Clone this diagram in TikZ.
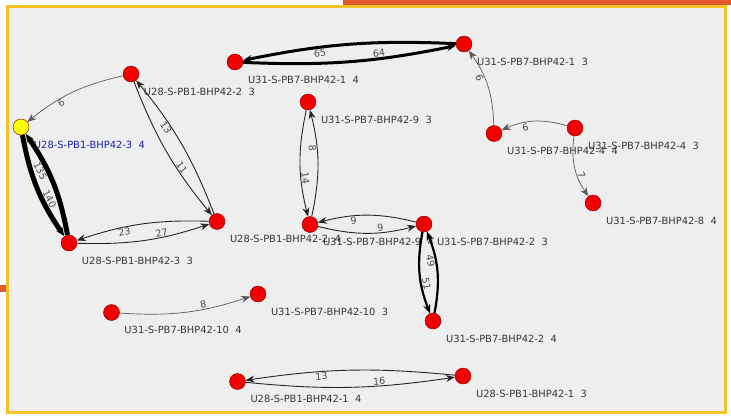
\documentclass[tikz,border=0pt]{standalone}
\usepackage{fontspec}
\setmainfont{DejaVu Sans}
\usetikzlibrary{arrows.meta}

\definecolor{panel}{RGB}{238,238,238}
\definecolor{frame}{RGB}{246,194,40}
\definecolor{strip}{RGB}{226,88,42}
\definecolor{vfill}{RGB}{240,0,0}
\definecolor{vline}{RGB}{130,0,0}
\definecolor{hubfill}{RGB}{255,255,0}
\definecolor{ltext}{RGB}{55,55,55}
\definecolor{btext}{RGB}{30,30,170}

\begin{document}
\begin{tikzpicture}[x=1pt, y=1pt,
  vtx/.style = {shape=circle, draw=vline, fill=vfill,
    minimum size=16pt, inner sep=0pt},
  hub/.style = {vtx, fill=hubfill},
  nlabel/.style = {font=\fontsize{9.9}{11}\selectfont, text=ltext,
    inner sep=0pt, xshift=7pt, yshift=-8pt},
  elabel/.style = {font=\fontsize{9.6}{11}\selectfont, text=black!70,
    pos=.65, sloped, auto, inner sep=0.5pt},
  tip/.style = {-{Stealth[length=9pt, width=7pt, inset=3pt]}},
  faint/.style = {tip, draw=black!65, line width=0.7pt},
  plain/.style = {tip, draw=black!85, line width=0.9pt},
  heavy/.style = {tip, draw=black, line width=2.2pt},
  heavier/.style = {tip, draw=black, line width=3pt},
  heaviest/.style = {tip, draw=black, line width=5pt}]
  \useasboundingbox (0,0) rectangle (731,-418);
  \fill[white] (0,0) rectangle (731,-418);
  \fill[strip] (343,0) rectangle (731,-4.5);
  \fill[strip] (0,-285) rectangle (6,-292);
  \draw[frame, fill=panel, line width=3pt] (7.5,-6) rectangle (725.5,-412);

  % U28 group
  \node[vtx, label={[nlabel]below right:U28-S-PB1-BHP42-2\ \ 3}] (a23) at (131,-74) {};
  \node[hub, label={[nlabel, text=btext]below right:U28-S-PB1-BHP42-3\ \ 4}] (a34) at (21,-127) {};
  \node[vtx, label={[nlabel]below right:U28-S-PB1-BHP42-3\ \ 3}] (a33) at (69,-243) {};
  \node[vtx, label={[nlabel]below right:U28-S-PB1-BHP42-2\ \ 4}] (a24) at (217,-221.5) {};
  \node[vtx, label={[nlabel]below right:U28-S-PB1-BHP42-1\ \ 4}] (a14) at (237.5,-381.5) {};
  \node[vtx, label={[nlabel]below right:U28-S-PB1-BHP42-1\ \ 3}] (a13) at (463,-376) {};

  % U31 group
  \node[vtx, label={[nlabel]below right:U31-S-PB7-BHP42-1\ \ 4}] (b14) at (235,-62) {};
  \node[vtx, label={[nlabel]below right:U31-S-PB7-BHP42-1\ \ 3}] (b13) at (464,-44) {};
  \node[vtx, label={[nlabel]below right:U31-S-PB7-BHP42-9\ \ 3}] (b93) at (308,-102) {};
  \node[vtx, label={[nlabel]below right:U31-S-PB7-BHP42-4\ \ 4}] (b44) at (494,-133.5) {};
  \node[vtx, label={[nlabel]below right:U31-S-PB7-BHP42-4\ \ 3}] (b43) at (575,-128) {};
  \node[vtx, label={[nlabel]below right:U31-S-PB7-BHP42-8\ \ 4}] (b84) at (593,-203) {};
  \node[vtx, label={[nlabel]below right:U31-S-PB7-BHP42-9\ \ 4}] (b94) at (310,-224.5) {};
  \node[vtx, label={[nlabel]below right:U31-S-PB7-BHP42-2\ \ 3}] (b23) at (424,-224) {};
  \node[vtx, label={[nlabel]below right:U31-S-PB7-BHP42-2\ \ 4}] (b24) at (433,-321) {};
  \node[vtx, label={[nlabel]below right:U31-S-PB7-BHP42-10\ \ 4}] (b104) at (111.5,-312.5) {};
  \node[vtx, label={[nlabel]below right:U31-S-PB7-BHP42-10\ \ 3}] (b103) at (258,-294) {};

  % edges
  \draw[faint] (a23) to[bend right=13] node[elabel, swap] {6} (a34);
  \draw[heaviest] (a34) to[bend right=12] node[elabel] {140} (a33);
  \draw[heaviest] (a33) to[bend right=12] node[elabel, swap] {135} (a34);
  \draw[plain] (a23) to[bend right=9] node[elabel] {11} (a24);
  \draw[plain] (a24) to[bend right=9] node[elabel, swap] {13} (a23);
  \draw[plain] (a33) to[bend right=10] node[elabel] {27} (a24);
  \draw[plain] (a24) to[bend right=10] node[elabel, swap] {23} (a33);
  \draw[heavier] (b14) to[bend right=7] node[elabel] {64} (b13);
  \draw[heavier] (b13) to[bend right=7] node[elabel, swap] {65} (b14);
  \draw[faint] (b44) to[bend right=17] node[elabel, swap] {6} (b13);
  \draw[faint] (b43) to[bend right=20] node[elabel, swap] {6} (b44);
  \draw[faint] (b43) to[bend right=21] node[elabel] {7} (b84);
  \draw[plain] (b94) to[bend right=13] node[elabel, swap] {8} (b93);
  \draw[plain] (b93) to[bend right=13] node[elabel] {14} (b94);
  \draw[plain] (b94) to[bend right=14] node[elabel] {9} (b23);
  \draw[plain] (b23) to[bend right=14] node[elabel, swap] {9} (b94);
  \draw[heavy] (b23) to[bend right=16] node[elabel] {51} (b24);
  \draw[heavy] (b24) to[bend right=16] node[elabel, swap] {49} (b23);
  \draw[faint] (b104) to[bend right=11] node[elabel] {8} (b103);
  \draw[plain] (a14) to[bend right=7] node[elabel] {16} (a13);
  \draw[plain] (a13) to[bend right=7] node[elabel, swap] {13} (a14);
\end{tikzpicture}
\end{document}
